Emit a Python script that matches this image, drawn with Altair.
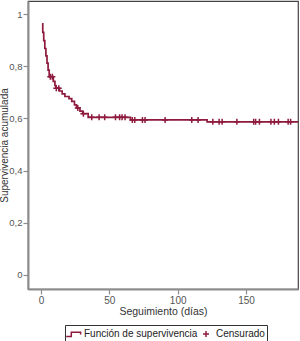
import altair as alt
import pandas as pd

RED = "#8e1b3e"

# Kaplan-Meier step function (event times in days, cumulative survival)
event_times = [0.7, 1.3, 2.0, 2.8, 3.6, 4.4, 5.2, 6.0, 9.0, 10.2, 10.9, 13.5, 15.5,
               17.5, 20.5, 22.5, 24.5, 26.0, 28.5, 30.5, 34.5, 65.5, 121.5]
survival = [0.962, 0.93, 0.898, 0.868, 0.84, 0.812, 0.785, 0.76, 0.742, 0.726, 0.716,
            0.705, 0.694, 0.684, 0.676, 0.665, 0.652, 0.64, 0.628, 0.618, 0.604, 0.594, 0.587]
end_time = 189.0

# censored observations (days)
censor_times = [6.8, 8.3, 11.2, 13.0, 26.9, 31.0, 37.1, 42.5, 46.6, 54.5, 57.5, 59.3,
                61.5, 66.8, 68.6, 74.2, 76.1, 90.8, 110.3, 114.9, 125.7, 130.3, 132.5,
                143.3, 155.6, 157.0, 159.8, 168.2, 170.7, 173.7, 180.8, 182.6]

series = ["Función de supervivencia", "Censurado"]
x_ticks = [0, 50, 100, 150]
y_ticks = [0, 0.2, 0.4, 0.6, 0.8, 1]

STEP_PATH = "M-1.3,0.35L-0.45,0.35L-0.45,-0.35L1.1,-0.35L1.1,0"
PLUS_PATH = "M-0.5,0L0.5,0M0,-0.5L0,0.5"


def km_at(t):
    s = 1.0
    for et, sv in zip(event_times, survival):
        if et <= t:
            s = sv
    return s


df_line = pd.DataFrame({"t": event_times + [end_time], "s": survival + [survival[-1]]})
df_cens = pd.DataFrame({"t": censor_times,
                        "s": [km_at(t) for t in censor_times],
                        "serie": "Censurado"})

FONT = "Liberation Sans"

xscale = alt.Scale(domain=[-9.5, 188], nice=False, zero=False)
yscale = alt.Scale(domain=[-0.054, 1.05], nice=False, zero=False)

xaxis = alt.Axis(values=x_ticks, title="Seguimiento (días)", grid=False,
                 domainColor="#8c8c8c", domainWidth=2, tickColor="#8c8c8c", tickWidth=1.2,
                 tickSize=5, labelColor="#555555", labelFontSize=10, labelFont=FONT,
                 labelPadding=1, labelFlush=False, titleFont=FONT, titleFontSize=10.5,
                 titleFontWeight="normal", titleColor="#333333", titleY=25,
                 titleBaseline="alphabetic")
yaxis = alt.Axis(values=y_ticks, title="Supervivencia acumulada", grid=False,
                 labelExpr="replace(format(datum.value, '~g'), '.', ',')",
                 domainColor="#8c8c8c", domainWidth=2, tickColor="#8c8c8c", tickWidth=1.2,
                 tickSize=5, labelColor="#555555", labelFontSize=9.5, labelFont=FONT,
                 labelPadding=1, labelFlush=False, titleFont=FONT, titleFontSize=10,
                 titleFontWeight="normal", titleColor="#333333", titleX=-24, titleY=144,
                 titleAngle=270, titleAlign="center", titleBaseline="middle")

line = alt.Chart(df_line).mark_line(interpolate="step-after", color=RED, strokeWidth=1.7,
                                    clip=True).encode(
    x=alt.X("t:Q", scale=xscale, axis=xaxis),
    y=alt.Y("s:Q", scale=yscale, axis=yaxis),
)

pts = alt.Chart(df_cens).mark_point(filled=False, size=144, strokeWidth=1.5, opacity=1,
                                    color=RED, clip=True).encode(
    x=alt.X("t:Q", scale=xscale),
    y=alt.Y("s:Q", scale=yscale),
    shape=alt.Shape("serie:N",
                    scale=alt.Scale(domain=series, range=[STEP_PATH, PLUS_PATH]),
                    legend=alt.Legend(title=None, orient="none", legendX=37, legendY=324,
                                      direction="horizontal", strokeColor="#333333",
                                      padding=2, labelFontSize=10, labelFont=FONT,
                                      labelColor="#222222", symbolSize=144,
                                      symbolStrokeWidth=1.5, symbolStrokeColor=RED,
                                      symbolFillColor="transparent", labelOffset=3,
                                      columnPadding=1)),
)

chart = alt.layer(line, pts).properties(
    width=270, height=288,
    autosize=alt.AutoSizeParams(type="none"),
    padding={"left": 28, "top": 1, "right": 2, "bottom": 52},
).configure_view(stroke="#444444", strokeWidth=1.2)

chart.save("out.html", embed_options={"renderer": "svg", "actions": False})
